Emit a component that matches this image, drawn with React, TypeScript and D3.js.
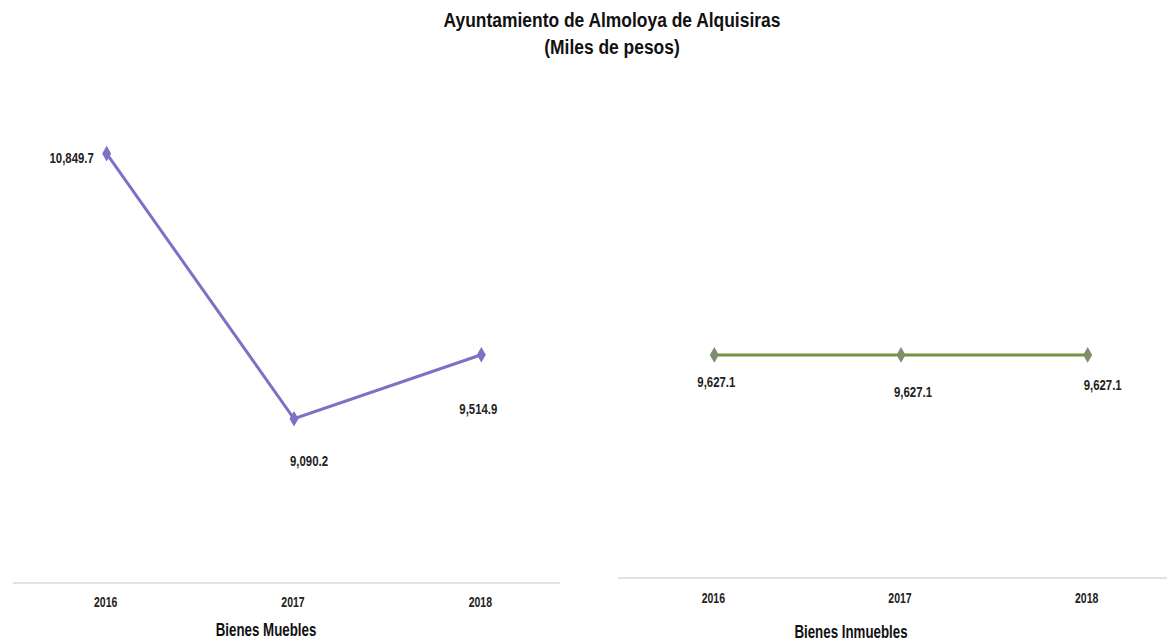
import React, { useEffect, useRef } from 'react';
import * as d3 from 'd3';

const years = ['2016', '2017', '2018'];
const mueblesValues = [10849.7, 9090.2, 9514.9];
const inmueblesValues = [9627.1, 9627.1, 9627.1];
const panelTitles = ['Bienes Muebles', 'Bienes Inmuebles'];

const FONT = "'Liberation Sans Narrow', 'Arial Narrow', 'Liberation Sans', sans-serif";

// narrow text: squeeze horizontally since no condensed font is around
function addText(
  g: d3.Selection<any, any, any, any>,
  x: number, y: number, txt: string,
  size: number, sx: number, weight = 'bold', fill = '#111'
) {
  g.append('text')
    .attr('transform', `translate(${x}, ${y}) scale(${sx}, 1)`)
    .attr('text-anchor', 'middle')
    .style('font-family', FONT)
    .style('font-size', `${size}px`)
    .style('font-weight', weight)
    .style('fill', fill)
    .text(txt);
}

export default function App() {
  const ref = useRef<SVGSVGElement>(null);

  useEffect(() => {
    const svg = d3.select(ref.current);
    svg.selectAll('*').remove();

    // title
    addText(svg, 612, 27, 'Ayuntamiento de Almoloya de Alquisiras', 21, 0.83);
    addText(svg, 612, 54, '(Miles de pesos)', 21, 0.83);

    const panels = [
      {
        values: mueblesValues,
        title: panelTitles[0],
        xRange: [13, 575], axisX: [13, 560], axisY: 583,
        yDomain: [8000, 11000], yRange: [583, 131],
        line: '#7b72c4', marker: '#7b72c4',
        tickY: 607, titleX: 266, titleY: 636,
        labelDx: [-35, 15, -3], labelDy: [9, 47, 59],
      },
      {
        values: inmueblesValues,
        title: panelTitles[1],
        xRange: [621, 1181], axisX: [618, 1167], axisY: 578,
        yDomain: [9400, 9855], yRange: [578, 131],
        line: '#76923c', marker: '#7f8c6e',
        tickY: 603, titleX: 851, titleY: 638,
        labelDx: [2, 12, 15], labelDy: [32, 42, 35],
      },
    ];

    panels.forEach(p => {
      const x = d3.scalePoint<string>().domain(years).range(p.xRange as [number, number]).padding(0.5);
      const y = d3.scaleLinear().domain(p.yDomain).range(p.yRange);
      const g = svg.append('g');

      // category axis line
      g.append('line')
        .attr('x1', p.axisX[0]).attr('x2', p.axisX[1])
        .attr('y1', p.axisY).attr('y2', p.axisY)
        .attr('stroke', '#d9d9d9').attr('stroke-width', 1.5);

      years.forEach(yr => addText(g, x(yr)! - 1, p.tickY, yr, 15, 0.7, 'bold', '#222'));

      addText(g, p.titleX, p.titleY, p.title, 18, 0.74);

      const data = years.map((yr, i) => ({ yr, v: p.values[i], i }));

      const lineGen = d3.line<{ yr: string; v: number }>()
        .x(d => x(d.yr)!)
        .y(d => y(d.v));

      g.append('path')
        .datum(data)
        .attr('d', lineGen)
        .attr('fill', 'none')
        .attr('stroke', p.line)
        .attr('stroke-width', 3);

      const diamond = d3.symbol().type(d3.symbolDiamond).size(70);
      g.selectAll('path.mk')
        .data(data)
        .enter().append('path')
        .attr('class', 'mk')
        .attr('d', diamond)
        .attr('transform', d => `translate(${x(d.yr)}, ${y(d.v)})`)
        .attr('fill', p.marker);

      data.forEach(d => addText(
        g,
        x(d.yr)! + p.labelDx[d.i],
        y(d.v) + p.labelDy[d.i],
        d3.format(',.1f')(d.v),
        15, 0.76, 'bold', '#222'
      ));
    });
  }, []);

  return (
    <svg ref={ref} width={1167} height={640} style={{ position: 'absolute', left: 0, top: 0, background: '#fff' }} />
  );
}
